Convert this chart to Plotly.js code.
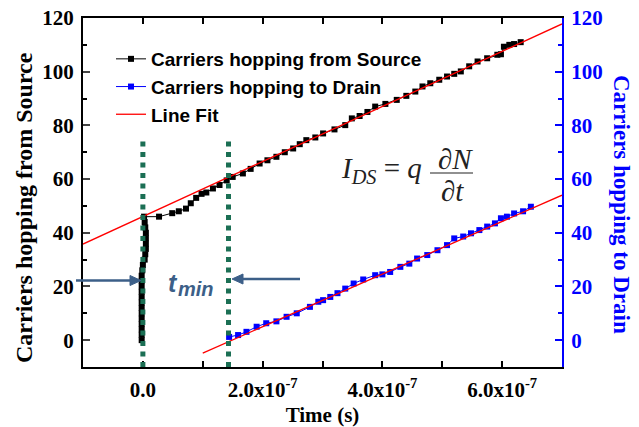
<!DOCTYPE html>
<html><head><meta charset="utf-8">
<script src="https://cdn.plot.ly/plotly-3.0.1.min.js"></script>
<style>html,body{margin:0;padding:0;background:#fff;}#chart{width:639px;height:427px;}</style>
</head><body><div id="chart"></div>
<script>
// Carriers hopping from Source (time in s, count)
const srcX = [-0.02e-7,-0.02e-7,-0.02e-7,-0.02e-7,-0.02e-7,-0.02e-7,-0.02e-7,-0.02e-7,-0.02e-7,-0.02e-7,-0.02e-7,-0.02e-7,-0.02e-7,-0.01e-7,0,0.03e-7,0.04e-7,0.05e-7,0.05e-7,0.05e-7,0.05e-7,0.04e-7,0.03e-7,0.02e-7,
  0.27e-7,0.49e-7,0.6e-7,0.72e-7,0.8e-7,0.89e-7,0.98e-7,1.06e-7,1.17e-7,1.28e-7,1.4e-7,1.5e-7,1.67e-7,1.8e-7,1.95e-7,2.08e-7,2.23e-7,2.37e-7,2.51e-7,2.62e-7,2.73e-7,2.88e-7,3.01e-7,3.2e-7,3.38e-7,3.49e-7,3.62e-7,3.75e-7,3.88e-7,4.05e-7,4.24e-7,4.4e-7,4.55e-7,4.67e-7,4.8e-7,4.95e-7,5.08e-7,5.2e-7,5.31e-7,5.45e-7,5.59e-7,5.75e-7,5.92e-7,5.98e-7,6.03e-7,6.12e-7,6.2e-7,6.31e-7];
const srcY = [0,2,4,6,8,10,12,14,16,18,20,22,24,26,28,30,32,34,36,38,40,42,44,46,
  46,47.3,48,49,51,53,54.5,55,56.5,57.8,59.5,60.8,62.1,63.8,65.8,67,68.3,70,71.4,73,74.5,75.5,77,78.5,80.1,82.6,83.5,85,87,88,89.5,91,92.6,94.5,95.7,97,98.2,99.2,100.1,102,103.8,105,106.3,106.5,109.3,110,110.3,111];
// Carriers hopping to Drain
const drnX = [1.44e-7,1.59e-7,1.73e-7,1.9e-7,2.06e-7,2.23e-7,2.4e-7,2.57e-7,2.79e-7,2.93e-7,3.01e-7,3.13e-7,3.25e-7,3.38e-7,3.52e-7,3.68e-7,3.88e-7,4.0e-7,4.13e-7,4.3e-7,4.45e-7,4.58e-7,4.75e-7,4.92e-7,5.08e-7,5.2e-7,5.35e-7,5.48e-7,5.62e-7,5.75e-7,5.88e-7,5.98e-7,6.08e-7,6.2e-7,6.35e-7,6.48e-7];
const drnY = [1.2,1.9,3.1,5,6.3,7,8.7,10,12.4,14.3,14.9,16.1,17.5,19.2,21.1,22.6,24.2,24.5,25.4,27.3,28.5,30.4,31.7,33.5,35.4,37.9,38.6,39.8,41,42.3,43.5,45.4,46,47.2,48,49.7];
// Line fits
const fitSrcX = [-1e-7, 7e-7];
const fitSrcY = [35.8, 117.8];
const fitDrnX = [1e-7, 7e-7];
const fitDrnY = [-4.8, 54];
// t_min guide lines
const guideX = [0, 1.43e-7];
const guideTop = [74.5, 75.7];
// Ticks
const xTickVals = [0, 2e-7, 4e-7, 6e-7];
const xTickText = ['0.0','2.0x10<sup>-7</sup>','4.0x10<sup>-7</sup>','6.0x10<sup>-7</sup>'];
const yTickVals = [0,20,40,60,80,100,120];

const serif = 'Liberation Serif, Times New Roman, serif';
const sans = 'Liberation Sans, Arial, sans-serif';
const W = 639, H = 427, ML = 83, MR = 77, MT = 18, MB = 60;
const px = X => (X - ML) / (W - ML - MR);
const py = Y => (H - MB - Y) / (H - MT - MB);
const arrowCol = '#3c5f88';

const traces = [
  {x: srcX, y: srcY, mode: 'lines+markers', name: 'Carriers hopping from Source',
   line: {color: '#000', width: 1}, marker: {symbol: 'square', size: 6, color: '#000'}},
  {x: drnX, y: drnY, yaxis: 'y2', mode: 'lines+markers', name: 'Carriers hopping to Drain',
   line: {color: '#0000ff', width: 1}, marker: {symbol: 'square', size: 6, color: '#0000ff'}},
  {x: fitSrcX, y: fitSrcY, mode: 'lines', name: 'Line Fit', line: {color: '#ff0000', width: 1.3}},
  {x: fitDrnX, y: fitDrnY, yaxis: 'y2', mode: 'lines', name: 'Line Fit', showlegend: false, line: {color: '#ff0000', width: 1.3}}
];

const shapes = guideX.map((gx, i) => ({type: 'line', xref: 'x', yref: 'y', x0: gx, x1: gx, y0: -10, y1: guideTop[i],
  line: {color: '#1b6f54', width: 5, dash: '5px,5.5px'}}));
// fraction bar
shapes.push({type: 'line', xref: 'paper', yref: 'paper', x0: px(430), x1: px(473), y0: py(173), y1: py(173), line: {color: '#222', width: 1.2}});
// t_min arrows (shaft + head)
function arrow(xTail, xHead, yy) {
  const dir = Math.sign(xHead - xTail);
  shapes.push({type: 'line', xref: 'paper', yref: 'paper', x0: px(xTail), x1: px(xHead - dir * 8), y0: py(yy), y1: py(yy),
    line: {color: arrowCol, width: 2.5}});
  shapes.push({type: 'path', xref: 'paper', yref: 'paper',
    path: `M${px(xHead)},${py(yy)} L${px(xHead - dir * 11)},${py(yy - 5)} L${px(xHead - dir * 11)},${py(yy + 5)} Z`,
    fillcolor: arrowCol, line: {color: arrowCol, width: 1}});
}
arrow(76, 141, 280.5);
arrow(300, 232, 279);

const annotations = [
  {xref: 'paper', yref: 'paper', x: px(24), y: py(208), xanchor: 'center', yanchor: 'middle', text: 'Carriers hopping from Source', textangle: -90, showarrow: false,
   font: {family: serif, size: 24, weight: 'bold', color: '#000'}},
  {xref: 'paper', yref: 'paper', x: px(622), y: py(204), xanchor: 'center', yanchor: 'middle', text: 'Carriers hopping to Drain', textangle: 90, showarrow: false,
   font: {family: serif, size: 23, weight: 'bold', color: '#0000ff'}},
  {xref: 'paper', yref: 'paper', x: px(339), y: py(170), xanchor: 'left', yanchor: 'middle', showarrow: false,
   text: '<i>I</i><sub><i>DS</i></sub> = <i>q</i>', font: {family: serif, size: 29, color: '#222'}},
  {xref: 'paper', yref: 'paper', x: px(455), y: py(159), xanchor: 'center', yanchor: 'middle', showarrow: false, text: '<i>∂N</i>', font: {family: serif, size: 29, color: '#222'}},
  {xref: 'paper', yref: 'paper', x: px(452), y: py(191), xanchor: 'center', yanchor: 'middle', showarrow: false, text: '<i>∂t</i>', font: {family: serif, size: 29, color: '#222'}},
  {xref: 'paper', yref: 'paper', x: px(166), y: py(283), xanchor: 'left', yanchor: 'middle', showarrow: false, text: 't',
   font: {family: sans, size: 25, weight: 'bold', style: 'italic', color: arrowCol}},
  {xref: 'paper', yref: 'paper', x: px(176), y: py(289), xanchor: 'left', yanchor: 'middle', showarrow: false, text: 'min',
   font: {family: sans, size: 20, weight: 'bold', style: 'italic', color: arrowCol}}
];

const layout = {
  width: W, height: H, margin: {l: ML, r: MR, t: MT, b: MB},
  paper_bgcolor: '#fff', plot_bgcolor: '#fff', showlegend: true,
  xaxis: {range: [-1e-7, 7e-7], tickmode: 'array', tickvals: xTickVals, ticktext: xTickText,
    ticks: 'inside', ticklen: 6, tickwidth: 2, tickcolor: '#000', showline: true, linewidth: 2, linecolor: '#000',
    minor: {tickmode: 'array', tickvals: [1e-7, 3e-7, 5e-7], ticks: 'inside', ticklen: 6, tickwidth: 2, tickcolor: '#000'},
    mirror: 'ticks', showgrid: false, zeroline: false, ticklabelstandoff: 3,
    tickfont: {family: serif, size: 21, weight: 'bold', color: '#000'},
    title: {text: 'Time (s)', standoff: 6, font: {family: serif, size: 21, weight: 'bold', color: '#000'}}},
  yaxis: {range: [-10, 120], tickmode: 'array', tickvals: yTickVals, ticks: 'inside', ticklen: 7, tickwidth: 2,
    minor: {dtick: 10, ticks: 'inside', ticklen: 4, tickwidth: 2, tickcolor: '#000'},
    showline: true, linewidth: 2, linecolor: '#000', showgrid: false, zeroline: false, ticklabelstandoff: 3,
    tickfont: {family: serif, size: 21, weight: 'bold', color: '#000'}},
  yaxis2: {range: [-10, 120], overlaying: 'y', side: 'right', tickmode: 'array', tickvals: yTickVals,
    ticks: 'inside', ticklen: 7, tickwidth: 2, tickcolor: '#0000ff',
    minor: {dtick: 10, ticks: 'inside', ticklen: 4, tickwidth: 2, tickcolor: '#0000ff'},
    showline: true, linewidth: 2, linecolor: '#0000ff', showgrid: false, zeroline: false, ticklabelstandoff: 3,
    tickfont: {family: serif, size: 21, weight: 'bold', color: '#0000ff'}},
  legend: {x: px(111), y: py(40), xanchor: 'left', yanchor: 'top', bgcolor: 'rgba(0,0,0,0)',
    font: {family: sans, size: 19, weight: 'bold', color: '#000'}, tracegroupgap: 0},
  shapes: shapes, annotations: annotations
};

Plotly.newPlot('chart', traces, layout, {displayModeBar: false, staticPlot: true});
</script>
</body></html>
